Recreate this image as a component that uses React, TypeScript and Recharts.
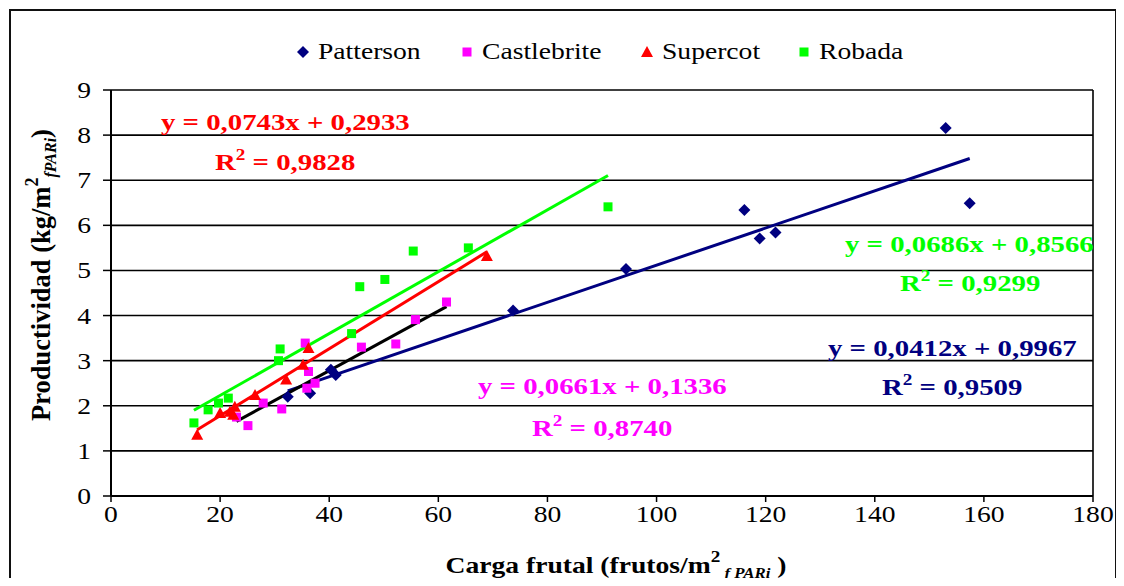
import React from 'react';
import { ScatterChart, Scatter, XAxis, YAxis, CartesianGrid, ReferenceLine } from 'recharts';

// ---------- data ----------
const seriesNames = ['Patterson', 'Castlebrite', 'Supercot', 'Robada'];

const pattersonX = [32.4, 36.5, 40.3, 41.2, 73.7, 94.4, 116.1, 118.9, 121.8, 153.0, 157.4];
const pattersonY = [2.2, 2.28, 2.8, 2.68, 4.11, 5.03, 6.34, 5.71, 5.84, 8.16, 6.49];

const castlebriteX = [23.0, 25.1, 27.9, 31.3, 35.6, 35.9, 36.2, 37.4, 45.9, 52.2, 55.8, 61.5];
const castlebriteY = [1.75, 1.56, 2.06, 1.93, 3.39, 2.39, 2.76, 2.5, 3.3, 3.37, 3.91, 4.3];

const supercotX = [15.8, 20.0, 21.8, 22.4, 22.7, 26.4, 32.1, 35.2, 36.2, 68.9];
const supercotY = [1.36, 1.84, 1.87, 1.8, 1.98, 2.24, 2.58, 2.91, 3.28, 5.32];

const robadaX = [15.2, 17.8, 19.7, 21.5, 30.7, 31.0, 44.1, 45.6, 50.2, 55.4, 65.5, 91.1];
const robadaY = [1.62, 1.91, 2.06, 2.17, 3.0, 3.26, 3.6, 4.64, 4.8, 5.43, 5.5, 6.41];

const trendSlopes = [0.0412, 0.0661, 0.0743, 0.0686];
const trendIntercepts = [0.9967, 0.1336, 0.2933, 0.8566];
const eqLabels = ['y = 0,0412x + 0,9967', 'y = 0,0661x + 0,1336', 'y = 0,0743x + 0,2933', 'y = 0,0686x + 0,8566'];
const r2Labels = ['0,9509', '0,8740', '0,9828', '0,9299'];

const xTicks = [0, 20, 40, 60, 80, 100, 120, 140, 160, 180];
const yTicks = [0, 1, 2, 3, 4, 5, 6, 7, 8, 9];

// ---------- styling ----------
const W = 1124;
const H = 586;
const SX = 1.2;
const FONT = 'Liberation Serif, Times New Roman, Times, serif';
const markerColors = ['#000080', '#FF00FF', '#FF0000', '#00FF00'];
const lineColors = ['#000080', '#000000', '#FF0000', '#00FF00'];
const eqColors = ['#000080', '#FF00FF', '#FF0000', '#00FF00'];

const zip = (xs: number[], ys: number[]) => xs.map((x, i) => ({ x, y: ys[i] }));
const allX = [pattersonX, castlebriteX, supercotX, robadaX];
const allData = [
  zip(pattersonX, pattersonY),
  zip(castlebriteX, castlebriteY),
  zip(supercotX, supercotY),
  zip(robadaX, robadaY),
];

function ST(props: any) {
  const { x, y, anchor = 'start', size = 23, bold = false, fill = '#000', rotate = false, sx = SX, children } = props;
  const tr = rotate
    ? `translate(${x},${y}) scale(${sx},1) rotate(-90)`
    : `translate(${x},${y}) scale(${sx},1)`;
  return (
    <text
      transform={tr}
      textAnchor={anchor}
      style={{ fontFamily: FONT, fontSize: size, fontWeight: bold ? 700 : 400 }}
      fill={fill}
    >
      {children}
    </text>
  );
}

function markerShape(kind: number, cx: number, cy: number, color: string) {
  if (kind === 0) {
    return (
      <polygon
        points={`${cx},${cy - 6} ${cx + 6},${cy} ${cx},${cy + 6} ${cx - 6},${cy}`}
        fill={color}
      />
    );
  }
  if (kind === 2) {
    return (
      <polygon points={`${cx},${cy - 6} ${cx + 6},${cy + 5} ${cx - 6},${cy + 5}`} fill={color} />
    );
  }
  return <rect x={cx - 4.5} y={cy - 4.5} width={9} height={9} fill={color} />;
}

const XTick = (p: any) => (
  <ST x={p.x} y={522} anchor="middle" size={23}>
    {p.payload.value}
  </ST>
);
const YTick = (p: any) => (
  <ST x={91} y={p.y + 8} anchor="end" size={23}>
    {p.payload.value}
  </ST>
);

function Eq(props: any) {
  const { i, x1, y1, x2, y2 } = props;
  return (
    <g>
      <ST x={x1} y={y1} size={24} bold fill={eqColors[i]}>
        {eqLabels[i]}
      </ST>
      <ST x={x2} y={y2} size={24} bold fill={eqColors[i]}>
        R
        <tspan style={{ fontSize: 16 }} dy={-10}>
          2
        </tspan>
        <tspan dy={10}>{' = ' + r2Labels[i]}</tspan>
      </ST>
    </g>
  );
}

export default function App() {
  const legendX = [303, 467, 647, 804];
  return (
    <div style={{ position: 'relative', margin: -8, width: W, height: H, overflow: 'hidden', background: '#fff' }}>
      <div
        style={{
          position: 'absolute',
          left: 9,
          top: 9,
          width: 1108,
          height: 620,
          border: '2px solid #111',
          boxSizing: 'border-box',
        }}
      />
      <div style={{ position: 'absolute', left: 0, top: 0 }}>
        <ScatterChart width={W} height={H} margin={{ top: 90, right: 31, bottom: 0, left: 0 }}>
          <CartesianGrid vertical={false} stroke="#000" strokeWidth={1.6} />
          <XAxis
            type="number"
            dataKey="x"
            domain={[0, 180]}
            ticks={xTicks}
            interval={0}
            height={90}
            tick={XTick}
            tickSize={6}
            axisLine={{ stroke: '#000', strokeWidth: 2 }}
            tickLine={{ stroke: '#000', strokeWidth: 1.5 }}
          />
          <YAxis
            type="number"
            dataKey="y"
            domain={[0, 9]}
            ticks={yTicks}
            interval={0}
            width={111}
            tick={YTick}
            tickSize={8}
            axisLine={{ stroke: '#000', strokeWidth: 2 }}
            tickLine={{ stroke: '#000', strokeWidth: 1.5 }}
          />
          <ReferenceLine x={180} stroke="#000" strokeWidth={1.6} />
          {allData.map((d, i) => (
            <Scatter
              key={seriesNames[i]}
              name={seriesNames[i]}
              data={d}
              isAnimationActive={false}
              shape={(p: any) => markerShape(i, p.cx, p.cy, markerColors[i])}
            />
          ))}
          {allX.map((xs, i) => {
            const a = Math.min(...xs);
            const b = Math.max(...xs);
            return (
              <ReferenceLine
                key={'t' + i}
                segment={[
                  { x: a, y: trendSlopes[i] * a + trendIntercepts[i] },
                  { x: b, y: trendSlopes[i] * b + trendIntercepts[i] },
                ]}
                stroke={lineColors[i]}
                strokeWidth={3}
                ifOverflow="visible"
              />
            );
          })}
        </ScatterChart>
      </div>
      <svg width={W} height={H} style={{ position: 'absolute', left: 0, top: 0, pointerEvents: 'none' }}>
        {seriesNames.map((n, i) => (
          <g key={n}>
            {markerShape(i, legendX[i], 52, markerColors[i])}
            <ST x={legendX[i] + 15} y={59} size={23}>
              {n}
            </ST>
          </g>
        ))}
        <Eq i={2} x1={161} y1={130} x2={215} y2={170} />
        <Eq i={3} x1={845} y1={252} x2={900} y2={291} />
        <Eq i={0} x1={828} y1={356} x2={882} y2={395} />
        <Eq i={1} x1={478} y1={394} x2={532} y2={436} />
        <ST x={616} y={573} anchor="middle" size={23} bold>
          Carga frutal (frutos/m
          <tspan style={{ fontSize: 16 }} dy={-11}>
            2
          </tspan>
          <tspan style={{ fontSize: 14, fontStyle: 'italic' }} dy={16}>
            {' '}f PARi
          </tspan>
          <tspan dy={-5}>{'  )'}</tspan>
        </ST>
        <ST x={50} y={275} anchor="middle" size={26.5} bold rotate sx={1}>
          Productividad (kg/m
          <tspan style={{ fontSize: 18 }} dy={-12}>
            2
          </tspan>
          <tspan style={{ fontSize: 16, fontStyle: 'italic' }} dy={18}>
            fPARi
          </tspan>
          <tspan dy={-6}>)</tspan>
        </ST>
      </svg>
    </div>
  );
}
